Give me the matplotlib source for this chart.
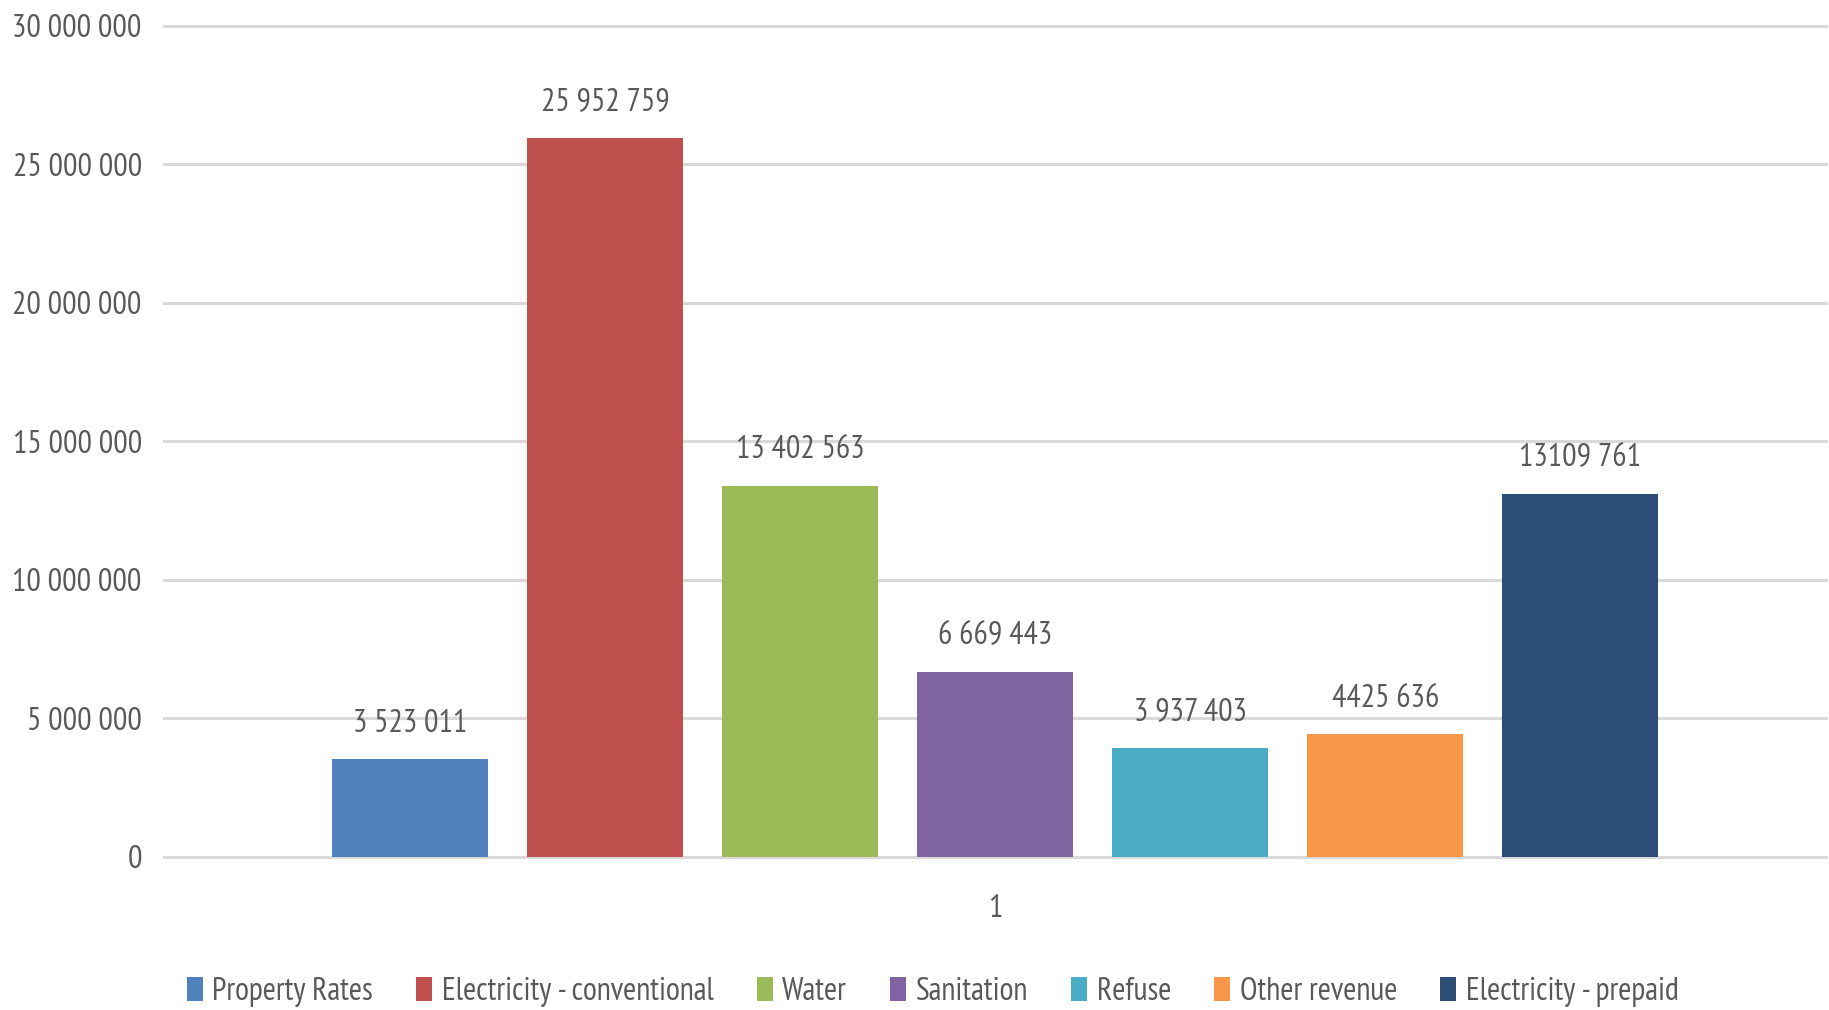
import matplotlib
matplotlib.use('Agg')
import matplotlib.pyplot as plt
from matplotlib.patches import Patch
from matplotlib.ticker import FuncFormatter

# data
categories = ['Property Rates', 'Electricity - conventional', 'Water', 'Sanitation',
              'Refuse', 'Other revenue', 'Electricity - prepaid']
values = [3523011, 25952759, 13402563, 6669443, 3937403, 4425636, 13109761]
value_labels = ['3 523 011', '25 952 759', '13 402 563', '6 669 443',
                '3 937 403', '4425 636', '13109 761']
colors = ['#4F81BD', '#C0504D', '#9BBB59', '#8064A2', '#4BACC6', '#F79646', '#2C4D75']
y_ticks = [0, 5000000, 10000000, 15000000, 20000000, 25000000, 30000000]
x_tick_label = '1'

plt.rcParams['font.family'] = ['PT Sans Narrow', 'DejaVu Sans']
text_col = '#595959'
fs = 23

fig = plt.figure(figsize=(18.29, 10.10), dpi=100)
ax = fig.add_axes([0.0897, 0.1515, 0.9087, 0.8228])

x = list(range(len(values)))
bars = ax.bar(x, values, width=0.8, color=colors, zorder=3)

# value labels above each bar
for xi, v, lab in zip(x, values, value_labels):
    ax.annotate(lab, (xi, v), xytext=(0, 15), textcoords='offset points',
                ha='center', va='bottom', fontsize=fs, color=text_col)

ax.set_xlim(-1.26, 7.26)
ax.set_ylim(0, 30000000)
ax.set_yticks(y_ticks)
ax.yaxis.set_major_formatter(FuncFormatter(lambda v, p: f'{int(v):,}'.replace(',', ' ')))
ax.set_xticks([3])
ax.set_xticklabels([x_tick_label])
ax.tick_params(axis='both', length=0, labelsize=fs, labelcolor=text_col)
ax.tick_params(axis='y', pad=16)
ax.tick_params(axis='x', pad=27)
ax.grid(axis='y', color='#D9D9D9', linewidth=2.2, zorder=0)
for s in ax.spines.values():
    s.set_visible(False)
for gl in ax.get_ygridlines():
    gl.set_clip_on(False)

handles = [Patch(facecolor=c, label=n) for c, n in zip(colors, categories)]
fig.legend(handles=handles, loc='center', bbox_to_anchor=(0.51, 0.018), ncol=7,
           frameon=False, fontsize=fs, labelcolor=text_col, handlelength=0.5,
           handleheight=0.8, handletextpad=0.3, columnspacing=1.35)

fig.savefig('out.png', dpi=100)
